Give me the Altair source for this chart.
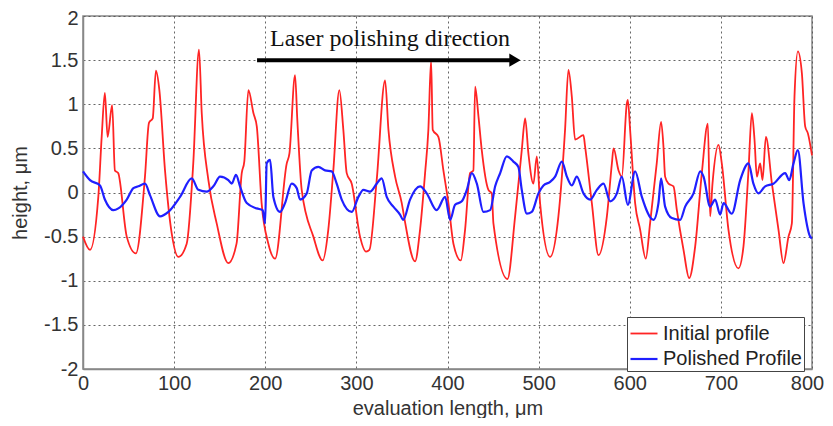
import altair as alt
import pandas as pd

# Initial (red) profile
red_x = [0, 7.7, 16.8, 20.5, 24, 27, 32, 35, 38.6, 48,
         58, 68, 72.4, 76.5, 80, 83.8, 90, 97.3, 104.6, 113.8,
         121, 127.3, 130.3, 137.6, 146.7, 159.4, 168.5, 174.2, 177, 181.5,
         187, 190.7, 196, 203.4, 210.8, 223.6, 226.5, 232.7, 235.2, 240,
         252.8, 263, 269.2, 274.7, 281.3, 285.7, 289.4, 294.9, 304, 310.6,
         314.3, 322.3, 331.5, 335.2, 342.5, 349.8, 352.3, 364.4, 369.9, 375.4,
         379, 382, 383.8, 390, 395.5, 401, 406.5, 414.6, 419.3, 424.8,
         428.4, 430.3, 434, 437.6, 444.9, 448.6, 450.4, 465.8, 474.2, 481.5,
         485.2, 488.8, 494.3, 498, 501.6, 512.6, 521.7, 529, 532.7, 536.4,
         540, 549.2, 551, 558.4, 565.7, 574.9, 580.4, 582.2, 587.7, 591.3,
         596.8, 597.9, 600.4, 605.9, 611.4, 617.6, 622.3, 629.6, 634.4, 637,
         638.8, 642.5, 648, 651.7, 659, 665.2, 671.8, 679.1, 685.7, 688.2,
         690.8, 697.4, 701, 708.3, 719.3, 724.8, 730.3, 734, 736.9, 739.5,
         743.1, 745.7, 749.4, 756, 763.2, 768.7, 774.2, 777.9, 780.8, 784.5,
         788.9, 792.5, 795.5, 800]
red_y = [-0.50, -0.65, -0.05, 0.63, 1.13, 0.63, 0.99, 0.25, 0.22, -0.50,
         -0.69, 0.18, 0.79, 0.84, 1.38, 1.16, 0.25, -0.46, -0.73, -0.58,
         0.33, 1.62, 0.90, 0.14, -0.35, -0.80, -0.58, 0.22, 0.35, 1.16,
         0.90, 0.75, -0.12, -0.58, -0.75, 0.33, 0.44, 1.33, 0.82, 0.03,
         -0.50, -0.77, -0.42, 0.25, 1.16, 0.71, 0.22, 0.10, -0.50, -0.67,
         -0.65, 0.14, 1.27, 0.71, 0.18, -0.12, -0.27, -0.78, -0.42, 0.22,
         0.71, 1.50, 0.71, 0.63, 0.25, -0.12, -0.58, -0.77, -0.42, 0.22,
         0.25, 1.20, 0.86, 0.48, 0.03, -0.01, -0.35, -0.98, -0.27, 0.48,
         0.84, 0.44, 0.10, 0.41, -0.12, -0.73, -0.27, 0.71, 1.39, 1.09,
         0.60, 0.65, 0.52, -0.12, -0.71, -0.27, 0.33, 0.50, 0.25, 0.18,
         1.01, 1.05, 0.71, -0.12, -0.42, -0.75, -0.35, 0.33, 0.80, 0.52,
         0.18, 0.10, 0.07, -0.20, -0.65, -0.97, -0.61, 0.22, 0.78, -0.27,
         0.10, 0.54, 0.33, -0.42, -0.86, -0.61, 0.25, 0.90, 0.60, 0.18,
         0.33, 0.14, 0.63, 0.10, -0.42, -0.80, -0.50, -0.35, 1.09, 1.60,
         1.35, 0.75, 0.67, 0.42]

# Polished (blue) profile
blue_x = [0, 7.7, 18.7, 24, 33.3, 38.8, 48, 55.3, 60.7, 68,
          73.5, 84.5, 93.7, 106.5, 119.3, 126.6, 135.8, 143.1, 150.4, 159.5,
          163.2, 167.9, 172.3, 179.7, 190.6, 197.2, 199.8, 201.6, 205.3, 208.9,
          216.2, 221.7, 229, 234.5, 238.2, 245.5, 251, 258.3, 265.6, 272.9,
          278.4, 283.9, 294.9, 302.2, 307.7, 315, 322.3, 327.8, 333.3, 340.6,
          347.9, 351.5, 358.9, 369.9, 377.2, 388.1, 397.4, 402.9, 408.3, 415.7,
          421.2, 426.7, 432.2, 439.4, 446.8, 452.3, 457.8, 465.1, 472.3, 477.8,
          481.5, 487, 492.5, 499.8, 505.3, 512.6, 518.1, 525.5, 531, 536.4,
          541.9, 549.2, 556.6, 563.9, 571.2, 578.5, 585.9, 591.3, 597.9, 605.9,
          613.3, 626, 631.5, 634.4, 638.8, 646.2, 655.3, 660.8, 670, 677.4,
          681, 688.2, 693.7, 699.2, 702.9, 712, 721.2, 730.3, 735.7, 741.2,
          748.6, 757.7, 770.6, 775, 779.7, 784.5, 790.7, 798, 800]
blue_y = [0.24, 0.14, 0.08, -0.08, -0.20, -0.18, -0.08, 0.05, 0.07, 0.10,
          -0.03, -0.27, -0.22, -0.05, 0.16, 0.03, 0.01, 0.07, 0.18, 0.14,
          0.10, 0.20, 0.07, -0.12, -0.18, -0.20, -0.35, 0.33, 0.37, -0.05,
          -0.22, -0.12, 0.10, 0.05, -0.08, -0.01, 0.25, 0.29, 0.25, 0.24,
          0.10, -0.08, -0.22, -0.05, 0.03, 0.01, 0.10, 0.16, -0.05, -0.16,
          -0.25, -0.31, -0.08, 0.07, -0.01, -0.20, -0.05, -0.31, -0.14, -0.10,
          0.03, 0.22, 0.10, -0.22, -0.20, 0.07, 0.22, 0.41, 0.35, 0.29,
          0.03, -0.24, -0.22, -0.01, 0.08, 0.12, 0.18, 0.35, 0.18, 0.08,
          0.18, -0.01, -0.08, 0.03, 0.10, -0.10, -0.01, 0.18, -0.14, 0.24,
          -0.05, -0.31, -0.12, 0.16, -0.16, -0.29, -0.31, -0.16, -0.01, 0.24,
          0.18, -0.16, -0.08, -0.25, -0.12, -0.24, 0.14, 0.33, 0.10, -0.01,
          0.07, 0.10, 0.22, 0.14, 0.33, 0.48, -0.12, -0.50, -0.52]

series_names = ["Initial profile", "Polished Profile"]
series_colors = ["#ff2424", "#1f1fff"]
series_widths = [1.8, 2.2]

x_ticks = [0, 100, 200, 300, 400, 500, 600, 700, 800]
y_ticks = [-2, -1.5, -1, -0.5, 0, 0.5, 1, 1.5, 2]

# annotation
note_text = ["Laser polishing direction"]
note_x = [337]
note_y = [1.66]
arrow_x = [191]
arrow_x2 = [474]
arrow_head_x = [474]
arrow_y = [1.5]

n_red = min(len(red_x), len(red_y))
n_blue = min(len(blue_x), len(blue_y))
df = pd.DataFrame({
    "x": red_x[:n_red] + blue_x[:n_blue],
    "y": red_y[:n_red] + blue_y[:n_blue],
    "series": [series_names[0]] * n_red + [series_names[1]] * n_blue,
    "order": list(range(n_red)) + list(range(n_blue)),
})

xscale = alt.Scale(domain=[0, 800], nice=False)
yscale = alt.Scale(domain=[-2, 2], nice=False)

lines = alt.Chart(df).mark_line(strokeJoin="round", interpolate="monotone").encode(
    x=alt.X("x:Q", scale=xscale,
            axis=alt.Axis(values=x_ticks, title="evaluation length, \u03bcm",
                          labelExpr="'' + datum.value",
                          labelOffset={"condition": {"test": "datum.value == 800", "value": -5},
                                       "value": 0})),
    y=alt.Y("y:Q", scale=yscale,
            axis=alt.Axis(values=y_ticks, title="height, \u03bcm",
                          labelExpr="'' + datum.value",
                          labelOffset={"condition": {"test": "datum.value == 2", "value": 2},
                                       "value": 0})),
    color=alt.Color("series:N",
                    scale=alt.Scale(domain=series_names, range=series_colors),
                    legend=alt.Legend(title=None, orient="none",
                                      legendX=544, legendY=301,
                                      symbolType="stroke", symbolSize=729,
                                      symbolStrokeWidth=2.2,
                                      labelFontSize=20, labelFont="Liberation Sans",
                                      labelColor="#222", labelOffset=4,
                                      rowPadding=0, padding=2,
                                      strokeColor="#444", fillColor="white")),
    strokeWidth=alt.StrokeWidth("series:N",
                                scale=alt.Scale(domain=series_names, range=series_widths),
                                legend=None),
    order="order:Q",
    detail="series:N",
)

ann_df = pd.DataFrame({"text": note_text, "x": note_x, "y": note_y})
arrow_df = pd.DataFrame({"x": arrow_x, "x2": arrow_x2, "y": arrow_y, "hx": arrow_head_x})

text = alt.Chart(ann_df).mark_text(font="Liberation Serif", fontSize=24,
                                   color="#111", baseline="alphabetic",
                                   align="center").encode(
    x=alt.X("x:Q", scale=xscale), y=alt.Y("y:Q", scale=yscale), text="text:N")

shaft = alt.Chart(arrow_df).mark_rule(color="black", strokeWidth=4).encode(
    x=alt.X("x:Q", scale=xscale), x2="x2:Q", y=alt.Y("y:Q", scale=yscale))

head = alt.Chart(arrow_df).mark_point(shape="triangle-right", filled=True,
                                      color="black", size=170, opacity=1).encode(
    x=alt.X("hx:Q", scale=xscale), y=alt.Y("y:Q", scale=yscale))

chart = alt.layer(lines, shaft, head, text).properties(
    width=729, height=353,
    autosize=alt.AutoSizeParams(type="none"),
    padding={"left": 75, "top": 8, "right": 13, "bottom": 49},
    background="white",
).configure_view(
    stroke="#888", strokeWidth=1.5
).configure_axis(
    grid=True, gridColor="#555", gridDash=[2, 3], gridWidth=1, gridOpacity=0.9,
    domainColor="#888", domainWidth=1.5, labelFlush=False,
    tickSize=0, labelFont="Liberation Sans", labelFontSize=20, labelColor="#333",
    titleFont="Liberation Sans", titleFontSize=20, titleFontWeight="normal",
    titleColor="#333",
).configure_axisX(
    labelPadding=4, titlePadding=5,
).configure_axisY(
    labelPadding=5, titlePadding=13,
)

chart.save("out.html", embed_options={"renderer": "svg", "actions": False})
